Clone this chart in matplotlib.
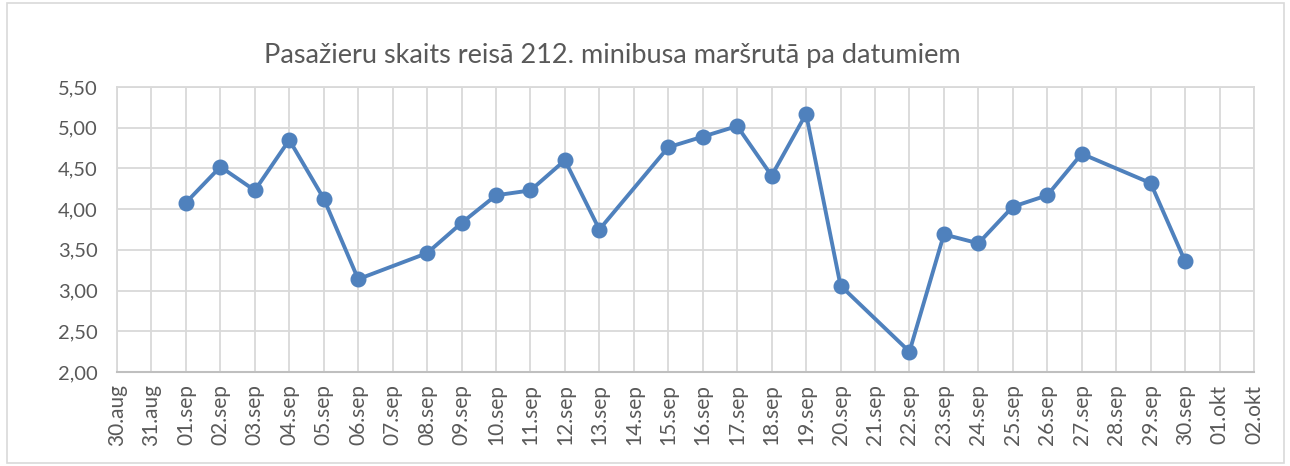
import matplotlib.pyplot as plt
from matplotlib.patches import Rectangle

plt.rcParams['font.family'] = ['Lato', 'DejaVu Sans']

# all days on the axis
day_labels = ['30.aug', '31.aug'] + ['%02d.sep' % d for d in range(1, 31)] + ['01.okt', '02.okt']

# days with data (Sundays missing)
dates = ['01.sep', '02.sep', '03.sep', '04.sep', '05.sep', '06.sep',
         '08.sep', '09.sep', '10.sep', '11.sep', '12.sep', '13.sep',
         '15.sep', '16.sep', '17.sep', '18.sep', '19.sep', '20.sep',
         '22.sep', '23.sep', '24.sep', '25.sep', '26.sep', '27.sep',
         '29.sep', '30.sep']
passengers = [4.08, 4.52, 4.23, 4.85, 4.13, 3.14,
              3.46, 3.83, 4.17, 4.23, 4.60, 3.75,
              4.76, 4.89, 5.02, 4.41, 5.17, 3.06,
              2.25, 3.69, 3.58, 4.03, 4.17, 4.68,
              4.32, 3.36]

x = [day_labels.index(d) for d in dates]

fig = plt.figure(figsize=(12.9, 4.66), dpi=100)
ax = fig.add_axes([117 / 1290, 1 - 372 / 466, (1254 - 117) / 1290, (372 - 87) / 466])

ax.plot(x, passengers, color='#4F81BD', lw=2.8, marker='o', ms=10.5, zorder=3)

ax.set_xlim(0, len(day_labels) - 1)
ax.set_ylim(2.0, 5.5)
ax.set_xticks(range(len(day_labels)))
ax.set_xticklabels(day_labels, rotation=90, fontsize=15, color='#595959')
yt = [2.0 + 0.5 * i for i in range(8)]
ax.set_yticks(yt)
ax.set_yticklabels([('%.2f' % v).replace('.', ',') for v in yt], fontsize=14.5, color='#595959')
ax.tick_params(length=0)
ax.tick_params(axis='x', pad=9)
ax.tick_params(axis='y', pad=14)

ax.grid(True, color='#D9D9D9', lw=1.3)
ax.set_axisbelow(True)
for s in ['top', 'right', 'left']:
    ax.spines[s].set_color('#D9D9D9')
    ax.spines[s].set_linewidth(1.3)
ax.spines['bottom'].set_color('#BFBFBF')
ax.spines['bottom'].set_linewidth(1.5)

fig.text(612 / 1290, 1 - 55 / 466, 'Pasažieru skaits reisā 212. minibusa maršrutā pa datumiem',
         ha='center', va='center', fontsize=19.5, color='#595959')

fig.patches.append(Rectangle((7 / 1290, 3 / 466), 1277 / 1290, 460 / 466,
                             transform=fig.transFigure, fill=False,
                             edgecolor='#D9D9D9', lw=1.2))

fig.savefig('out.png', dpi=100)
